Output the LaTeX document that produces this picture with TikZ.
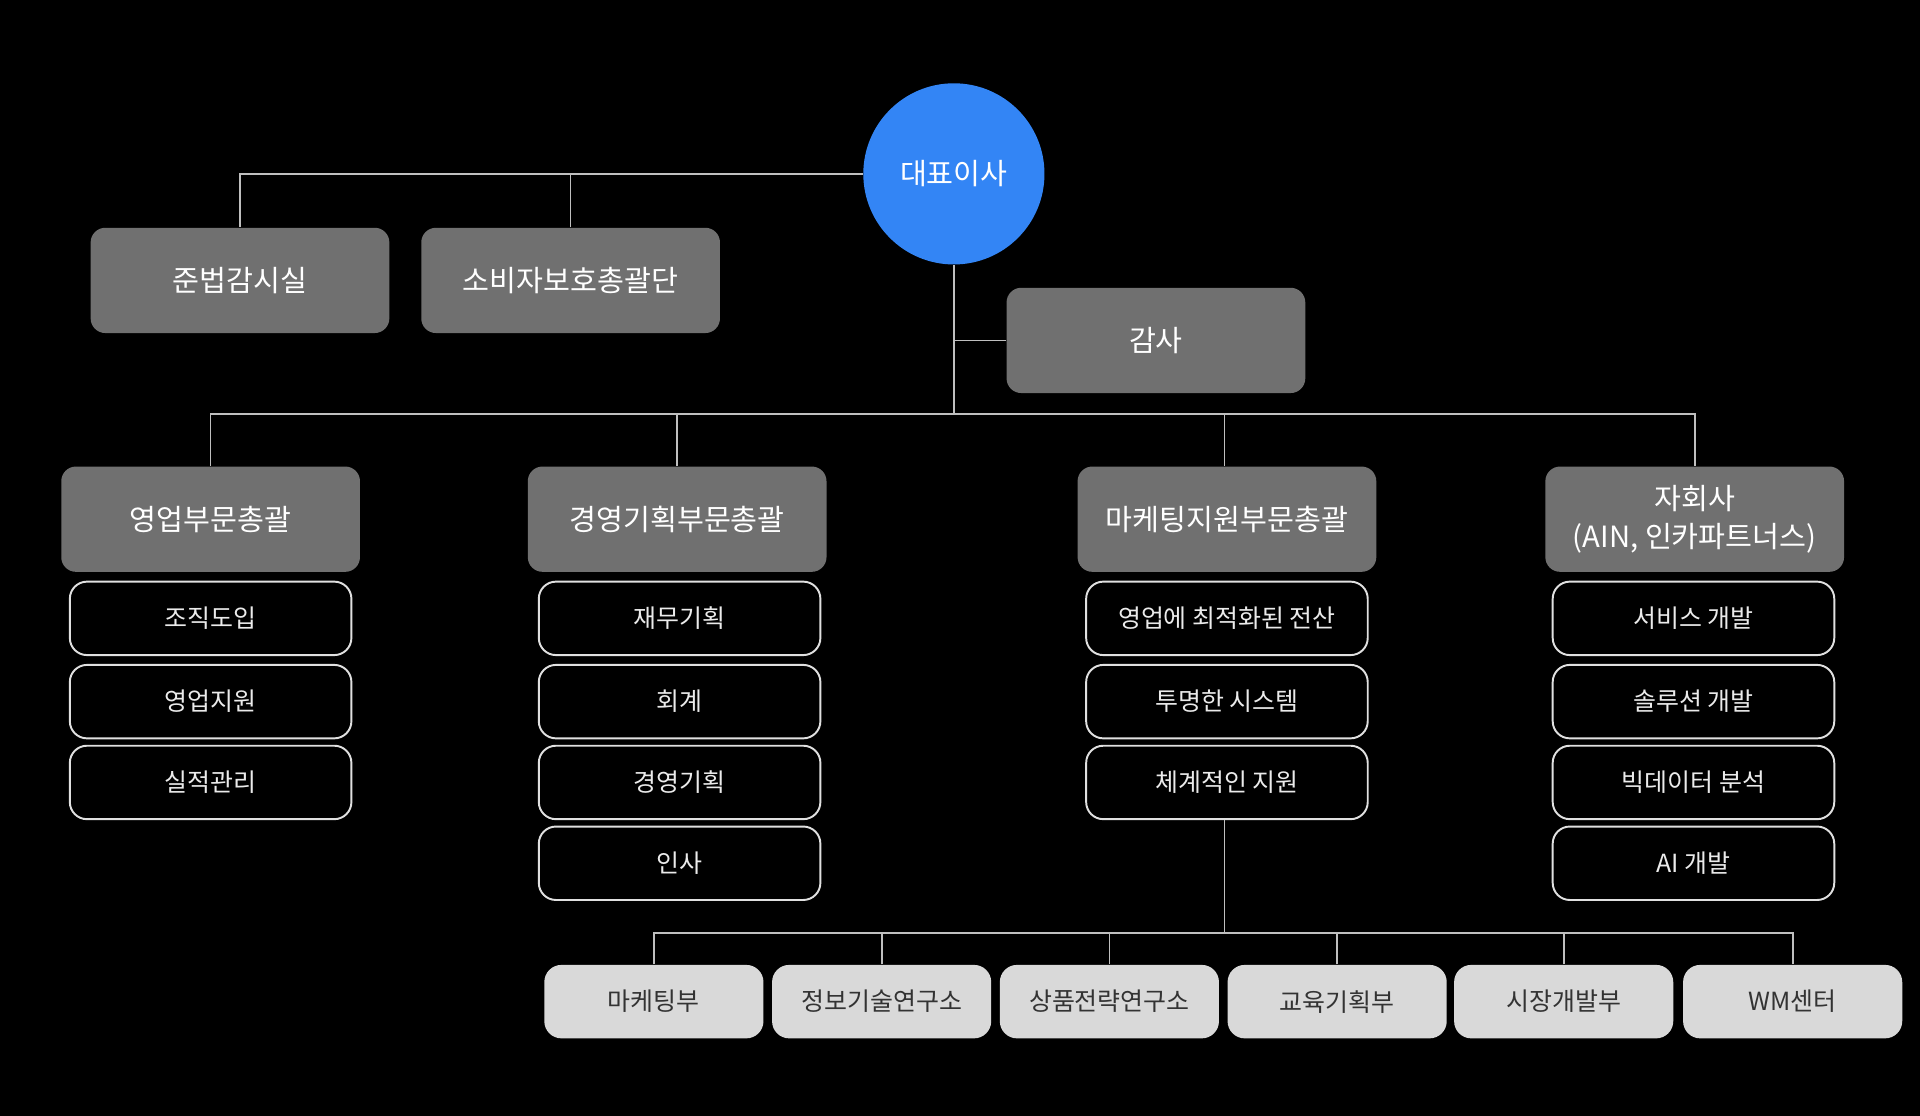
\documentclass[tikz,border=0pt]{standalone}
\usepackage{fontspec}
\setmainfont{Noto Sans CJK KR}
\usetikzlibrary{positioning}

\definecolor{ceoblue}{HTML}{3385F5}
\definecolor{headgray}{HTML}{707070}
\definecolor{unitgray}{HTML}{D9D9D9}
\definecolor{linegray}{HTML}{BFBFBF}

\tikzset{
  headbox/.style={fill=headgray, text=white, rounded corners=0.24cm, minimum width=4.88cm, minimum height=1.72cm, align=center, font=\fontsize{13.6}{17.6}\selectfont},
  taskbox/.style={draw=white!88!black, line width=0.9pt, fill=black, text=white!92!black, rounded corners=0.28cm, minimum width=4.6cm, minimum height=1.2cm, font=\fontsize{11.6}{14}\selectfont},
  unitbox/.style={fill=unitgray, text=black!80, rounded corners=0.28cm, minimum width=3.58cm, minimum height=1.2cm, font=\fontsize{11.6}{14}\selectfont},
  link/.style={draw=linegray, line width=0.8pt}
}

\begin{document}
\begin{tikzpicture}[x=0.02cm, y=-0.02cm]
\fill[black] (0,0) rectangle (1568,911);
\useasboundingbox (0,0) rectangle (1568,911);

\node[circle, fill=ceoblue, text=white, minimum size=2.96cm, inner sep=0pt, font=\fontsize{13.6}{16}\selectfont] (ceo) at (779,142) {대표이사};
\node[headbox] (comp) at (196,229) {준법감시실};
\node[headbox] (cons) at (466,229) {소비자보호총괄단};
\node[headbox] (audit) at (944,278) {감사};
\coordinate (hub) at (779,338);

\node[headbox] (sales) at (172,424) {영업부문총괄};
\node[headbox] (plan) at (553,424) {경영기획부문총괄};
\node[headbox] (mkt) at (1002,424) {마케팅지원부문총괄};
\node[headbox] (subs) at (1384,424) {자회사\\(AIN, 인카파트너스)};

\node[taskbox] (s1) at (172,505) {조직도입};
\node[taskbox] (s2) at (172,573) {영업지원};
\node[taskbox] (s3) at (172,639) {실적관리};

\node[taskbox] (p1) at (555,505) {재무기획};
\node[taskbox] (p2) at (555,573) {회계};
\node[taskbox] (p3) at (555,639) {경영기획};
\node[taskbox] (p4) at (555,705) {인사};

\node[taskbox] (m1) at (1002,505) {영업에 최적화된 전산};
\node[taskbox] (m2) at (1002,573) {투명한 시스템};
\node[taskbox] (m3) at (1002,639) {체계적인 지원};

\node[taskbox] (c1) at (1383,505) {서비스 개발};
\node[taskbox] (c2) at (1383,573) {솔루션 개발};
\node[taskbox] (c3) at (1383,639) {빅데이터 분석};
\node[taskbox] (c4) at (1383,705) {AI 개발};

\coordinate (bus) at (1000,762);
\node[unitbox] (b1) at (534,818) {마케팅부};
\node[unitbox] (b2) at (720,818) {정보기술연구소};
\node[unitbox] (b3) at (906,818) {상품전략연구소};
\node[unitbox] (b4) at (1092,818) {교육기획부};
\node[unitbox] (b5) at (1277,818) {시장개발부};
\node[unitbox] (b6) at (1464,818) {WM센터};

\draw[link] (ceo.west) -| (comp.north);
\draw[link] (cons.north) -- (cons.north |- ceo.west);
\draw[link] (ceo.south) -- (hub);
\draw[link] (audit.west) -- (audit.west -| hub);
\draw[link] (sales.north) |- (hub) -| (subs.north);
\draw[link] (plan.north) -- (plan.north |- hub);
\draw[link] (bus |- mkt.north) -- (bus |- hub);
\draw[link] (bus |- m3.south) -- (bus);
\draw[link] (b1.north) |- (bus) -| (b6.north);
\foreach \u in {b2,b3,b4,b5}
  \draw[link] (\u.north) -- (\u.north |- bus);
\end{tikzpicture}
\end{document}
